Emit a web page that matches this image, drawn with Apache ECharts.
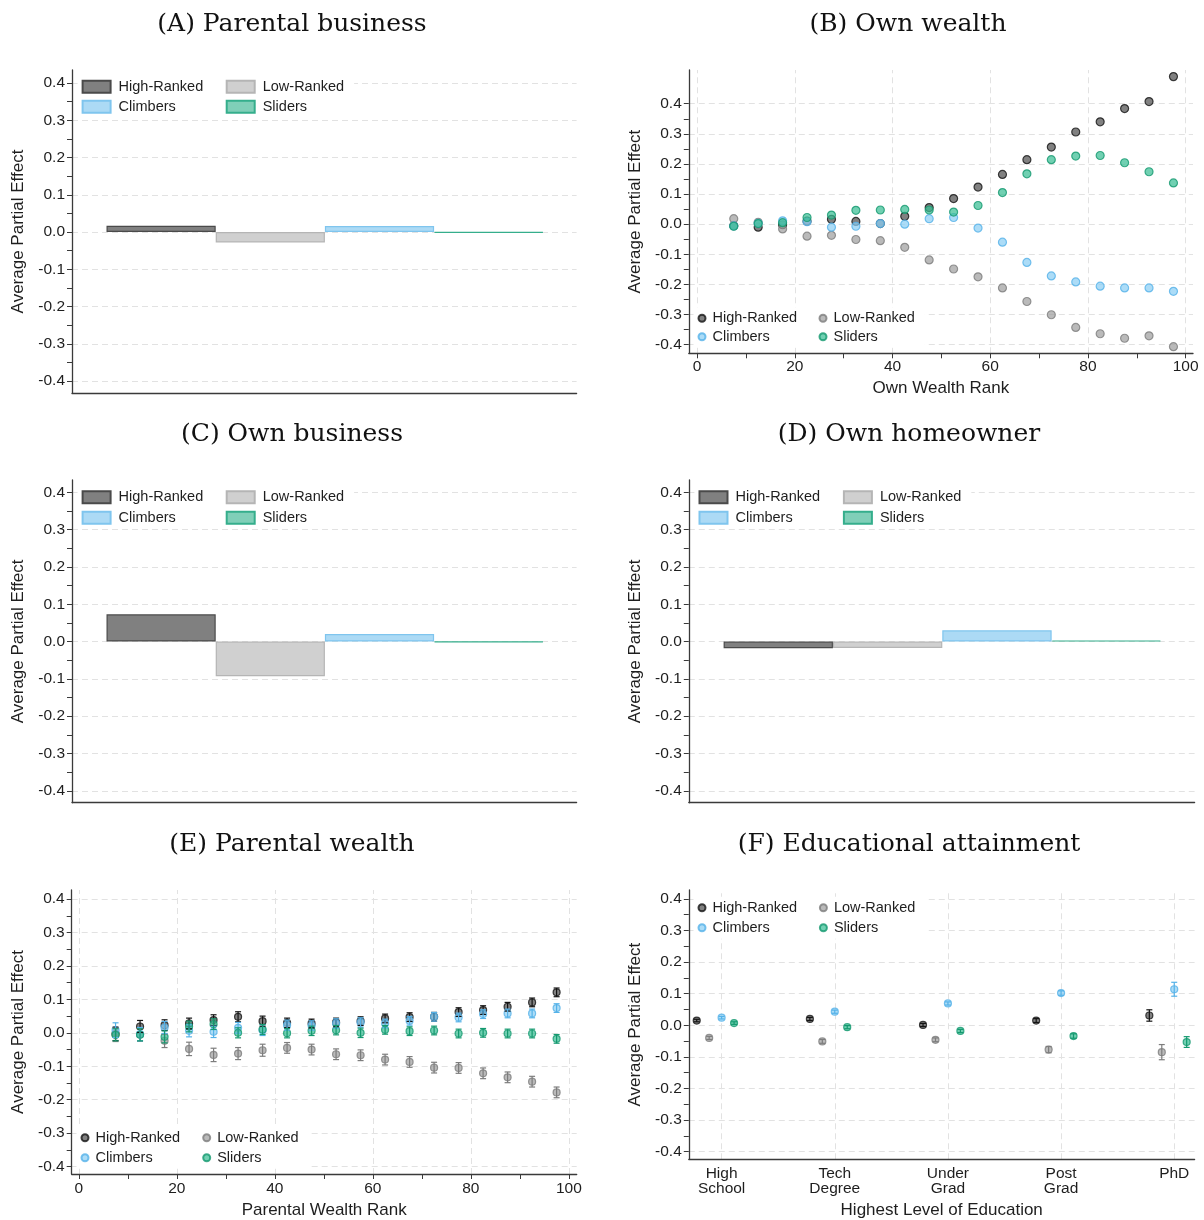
<!DOCTYPE html>
<html><head><meta charset="utf-8">
<script src="https://cdn.jsdelivr.net/npm/echarts@6/dist/echarts.min.js"></script>
<style>
html,body{margin:0;padding:0;background:#fff;}
#page{position:relative;width:1204px;height:1220px;overflow:hidden;}
.p{position:absolute;width:602px;height:410px;}
</style>
</head><body><div id="page">
<div class="p" id="pA" style="left:0;top:0"></div>
<div class="p" id="pB" style="left:602px;top:0"></div>
<div class="p" id="pC" style="left:0;top:410px"></div>
<div class="p" id="pD" style="left:602px;top:410px"></div>
<div class="p" id="pE" style="left:0;top:820px;height:420px"></div>
<div class="p" id="pF" style="left:602px;top:820px;height:420px"></div>
</div>
<script>
// ---------- data ----------
const groups = ['High-Ranked', 'Low-Ranked', 'Climbers', 'Sliders'];
const yLabelValues = [-0.4, -0.3, -0.2, -0.1, 0, 0.1, 0.2, 0.3, 0.4];
const yTickValues = [-0.4, -0.35, -0.3, -0.25, -0.2, -0.15, -0.1, -0.05, 0, 0.05, 0.1, 0.15, 0.2, 0.25, 0.3, 0.35, 0.4];
const rankLabelValues = [0, 20, 40, 60, 80, 100];
const rankTickValues = [0, 10, 20, 30, 40, 50, 60, 70, 80, 90, 100];
const rankBins = [7.5, 12.5, 17.5, 22.5, 27.5, 32.5, 37.5, 42.5, 47.5, 52.5, 57.5, 62.5, 67.5, 72.5, 77.5, 82.5, 87.5, 92.5, 97.5];
const eduLevels = ['High\nSchool', 'Tech\nDegree', 'Under\nGrad', 'Post\nGrad', 'PhD'];
const eduPositions = [1, 2, 3, 4, 5];

// (A) Parental business, (C) Own business, (D) Own homeowner: High, Low, Climbers, Sliders
const parentalBusiness = [0.017, -0.028, 0.016, -0.002];
const ownBusiness = [0.073, -0.093, 0.020, -0.002];
const ownHomeowner = [-0.018, -0.017, 0.030, 0.003];

// (B) Own wealth
const ownWealthHigh  = [-0.005, -0.010, -0.002, 0.010, 0.016, 0.009, 0.002, 0.026, 0.055, 0.085, 0.123, 0.165, 0.214, 0.256, 0.306, 0.340, 0.384, 0.407, 0.490];
const ownWealthLow   = [0.018, 0.006, -0.016, -0.040, -0.037, -0.051, -0.055, -0.077, -0.119, -0.149, -0.175, -0.212, -0.257, -0.301, -0.343, -0.364, -0.379, -0.371, -0.407];
const ownWealthClimb = [-0.006, 0.003, 0.011, 0.008, -0.010, -0.007, 0.002, 0.000, 0.018, 0.022, -0.013, -0.060, -0.127, -0.172, -0.192, -0.206, -0.212, -0.212, -0.223];
const ownWealthSlide = [-0.007, 0.002, 0.005, 0.022, 0.030, 0.046, 0.047, 0.049, 0.047, 0.040, 0.062, 0.105, 0.167, 0.214, 0.226, 0.228, 0.204, 0.174, 0.137];

// (E) Parental wealth (estimate and CI half-width)
const parWealthHigh  = [-0.003, 0.019, 0.023, 0.028, 0.038, 0.048, 0.035, 0.030, 0.028, 0.031, 0.035, 0.043, 0.047, 0.048, 0.062, 0.068, 0.078, 0.091, 0.121];
const parWealthLow   = [-0.006, -0.005, -0.024, -0.048, -0.066, -0.062, -0.052, -0.045, -0.050, -0.064, -0.067, -0.080, -0.087, -0.104, -0.105, -0.121, -0.133, -0.146, -0.178];
const parWealthClimb = [0.008, -0.004, 0.016, 0.006, 0.003, 0.015, 0.008, 0.023, 0.022, 0.028, 0.031, 0.028, 0.036, 0.048, 0.046, 0.056, 0.058, 0.058, 0.074];
const parWealthSlide = [-0.006, -0.006, -0.012, 0.019, 0.026, 0.000, 0.010, -0.001, 0.006, 0.008, 0.000, 0.009, 0.005, 0.007, -0.002, 0.000, -0.002, -0.002, -0.018];
const parWealthHighErr  = [0.020, 0.018, 0.016, 0.016, 0.016, 0.015, 0.015, 0.014, 0.013, 0.013, 0.013, 0.013, 0.013, 0.013, 0.013, 0.013, 0.013, 0.013, 0.013];
const parWealthLowErr   = [0.020, 0.020, 0.020, 0.020, 0.020, 0.018, 0.018, 0.016, 0.016, 0.016, 0.016, 0.016, 0.016, 0.016, 0.016, 0.016, 0.016, 0.016, 0.016];
const parWealthClimbErr = [0.022, 0.020, 0.018, 0.018, 0.017, 0.016, 0.016, 0.015, 0.014, 0.014, 0.014, 0.013, 0.013, 0.013, 0.013, 0.013, 0.013, 0.013, 0.013];
const parWealthSlideErr = [0.018, 0.018, 0.018, 0.016, 0.016, 0.015, 0.015, 0.014, 0.014, 0.014, 0.014, 0.013, 0.013, 0.013, 0.013, 0.013, 0.013, 0.013, 0.013];

// (F) Educational attainment
const eduHigh  = [0.015, 0.020, 0.001, 0.015, 0.031];
const eduLow   = [-0.040, -0.051, -0.046, -0.077, -0.085];
const eduClimb = [0.024, 0.043, 0.069, 0.102, 0.114];
const eduSlide = [0.007, -0.006, -0.018, -0.034, -0.053];
const eduHighErr  = [0.004, 0.005, 0.005, 0.006, 0.018];
const eduLowErr   = [0.005, 0.006, 0.006, 0.010, 0.024];
const eduClimbErr = [0.004, 0.005, 0.005, 0.007, 0.022];
const eduSlideErr = [0.004, 0.005, 0.005, 0.007, 0.017];

// ---------- styles ----------
const SANS = '"Liberation Sans", Arial, Helvetica, sans-serif';
const SERIF = '"DejaVu Serif", serif';
const AX = '#3a3a3a', TXT = '#1e1e1e', GRIDC = '#e2e2e2';
const barColors = {
  'High-Ranked': {fill: '#808080', stroke: '#4a4a4a'},
  'Low-Ranked':  {fill: '#d0d0d0', stroke: '#b5b5b5'},
  'Climbers':    {fill: '#acdaf5', stroke: '#7fc5ee'},
  'Sliders':     {fill: '#80cfb8', stroke: '#35ae8c'}
};
const pointColors = {
  'High-Ranked': {fill: 'rgba(70,70,70,0.85)',   stroke: '#141414'},
  'Low-Ranked':  {fill: 'rgba(160,160,160,0.9)', stroke: '#7d7d7d'},
  'Climbers':    {fill: 'rgba(140,206,244,0.9)', stroke: '#55b2e8'},
  'Sliders':     {fill: 'rgba(58,190,148,0.9)',  stroke: '#14996f'}
};

function titleCfg(text, cx) {
  return {text, left: cx, top: 10, padding: 0, textAlign: 'center',
    textStyle: {fontFamily: SERIF, fontSize: 25, fontWeight: 'normal', color: '#111', lineHeight: 28}};
}
function gridCfg(left, top, width, height) {
  return {left, top, width, height, containLabel: false, outerBoundsMode: 'none'};
}
function yAxisCfg(range) {
  return {
    type: 'value', gridIndex: 0, min: range[0], max: range[1],
    name: 'Average Partial Effect', nameLocation: 'middle', nameGap: 45,
    nameTextStyle: {fontFamily: SANS, fontSize: 17, color: TXT},
    axisLine: {show: true, onZero: false, lineStyle: {color: AX, width: 1.3}},
    axisTick: {show: true, customValues: yTickValues, length: 5, lineStyle: {color: AX, width: 1}},
    axisLabel: {show: true, customValues: yLabelValues, margin: 7,
      formatter: v => (Math.abs(v) < 1e-9 ? '0.0' : v.toFixed(1)),
      fontFamily: SANS, fontSize: 15.5, color: TXT},
    splitLine: {show: false}
  };
}
function gridLineSeries(hVals, vVals) {
  return {
    type: 'line', name: 'gridlines', xAxisIndex: 0, yAxisIndex: 0, data: [], silent: true, z: 0,
    markLine: {
      z: 0, silent: true, symbol: ['none', 'none'], label: {show: false}, animation: false,
      lineStyle: {type: [6, 4], color: GRIDC, width: 1},
      emphasis: {disabled: true},
      data: hVals.map(v => ({yAxis: v})).concat(vVals.map(v => ({xAxis: v})))
    }
  };
}
function legendCfg(kind, leg) {
  const isBar = kind === 'bar';
  const pt = 3, pl = 4;
  const base = {
    orient: 'vertical', top: leg.top - pt, itemGap: leg.gap, selectedMode: false,
    backgroundColor: '#ffffff', z: 6,
    icon: isBar ? 'rect' : 'circle',
    itemWidth: isBar ? 28 : 7, itemHeight: isBar ? 12 : 7,
    textStyle: {fontFamily: SANS, fontSize: 14.5, color: TXT, lineHeight: 16,
      padding: [0, 0, 0, isBar ? 3 : 2]}
  };
  return [
    Object.assign({}, base, {left: leg.x1 - pl, padding: [pt, 26, pt, pl], data: ['High-Ranked', 'Climbers']}),
    Object.assign({}, base, {left: leg.x2 - pl, padding: [pt, 10, pt, pl], data: ['Low-Ranked', 'Sliders']})
  ];
}

function barPanel(id, title, cx, vals, g) {
  const chart = echarts.init(document.getElementById(id));
  const series = [gridLineSeries(yLabelValues, [])];
  groups.forEach((name, i) => {
    series.push({
      type: 'bar', name, xAxisIndex: 1, yAxisIndex: 1, stack: 'all', barWidth: '100%', z: 3,
      data: groups.map((_, j) => (j === i ? vals[i] : '-')),
      itemStyle: {color: barColors[name].fill, borderColor: barColors[name].stroke, borderWidth: 1.2},
      emphasis: {disabled: true}
    });
  });
  chart.setOption({
    animation: false,
    title: titleCfg(title, cx),
    grid: [
      gridCfg(g.left, g.top, g.width, g.height),
      gridCfg(g.barLeft, g.top, g.barWidth, g.height)
    ],
    xAxis: [
      {type: 'value', gridIndex: 0, min: 0, max: 1,
        axisLine: {show: true, onZero: false, lineStyle: {color: AX, width: 1.3}},
        axisTick: {show: false}, axisLabel: {show: false}, splitLine: {show: false}},
      {type: 'category', gridIndex: 1, data: groups, show: false}
    ],
    yAxis: [
      yAxisCfg(g.yRange),
      {type: 'value', gridIndex: 1, min: g.yRange[0], max: g.yRange[1], show: false, splitLine: {show: false}}
    ],
    legend: legendCfg('bar', g.leg),
    series
  });
}

function pointPanel(id, title, cx, xs, vals, errs, offsets, g) {
  const chart = echarts.init(document.getElementById(id));
  const series = [gridLineSeries(yLabelValues, g.vGrid)];
  groups.forEach((name, i) => {
    const pts = xs.map((x, k) => [x + offsets[i], vals[i][k]]);
    series.push({
      type: 'scatter', name, xAxisIndex: 0, yAxisIndex: 0, z: 3,
      symbol: 'circle', symbolSize: g.symbolSize, data: pts,
      itemStyle: {color: pointColors[name].fill, borderColor: pointColors[name].stroke, borderWidth: 1.2},
      emphasis: {disabled: true}
    });
  });
  if (errs) {
    groups.forEach((name, i) => {
      const stroke = pointColors[name].stroke;
      series.push({
        type: 'custom', name: name + ' CI', xAxisIndex: 0, yAxisIndex: 0, z: 4, silent: true,
        data: xs.map((x, k) => [x + offsets[i], vals[i][k] - errs[i][k], vals[i][k] + errs[i][k]]),
        encode: {x: 0, y: [1, 2]},
        renderItem: (params, api) => {
          const p1 = api.coord([api.value(0), api.value(1)]);
          const p2 = api.coord([api.value(0), api.value(2)]);
          const w = 3;
          const st = {stroke, lineWidth: 1.2};
          return {type: 'group', children: [
            {type: 'line', shape: {x1: p1[0], y1: p1[1], x2: p2[0], y2: p2[1]}, style: st},
            {type: 'line', shape: {x1: p1[0] - w, y1: p1[1], x2: p1[0] + w, y2: p1[1]}, style: st},
            {type: 'line', shape: {x1: p2[0] - w, y1: p2[1], x2: p2[0] + w, y2: p2[1]}, style: st}
          ]};
        }
      });
    });
  }
  chart.setOption({
    animation: false,
    title: titleCfg(title, cx),
    grid: [gridCfg(g.left, g.top, g.width, g.height)],
    xAxis: [{
      type: 'value', gridIndex: 0, min: g.xRange[0], max: g.xRange[1],
      name: g.xName, nameLocation: 'middle', nameGap: g.xNameGap,
      nameTextStyle: {fontFamily: SANS, fontSize: 17, color: TXT},
      axisLine: {show: true, onZero: false, lineStyle: {color: AX, width: 1.3}},
      axisTick: g.xTicks ? {show: true, customValues: g.xTicks, length: 5, lineStyle: {color: AX, width: 1}} : {show: false},
      axisLabel: {show: true, customValues: g.xLabels, formatter: g.xFormatter, margin: g.xLabelMargin,
        fontFamily: SANS, fontSize: 15.5, color: TXT, lineHeight: 15},
      splitLine: {show: false}
    }],
    yAxis: [yAxisCfg(g.yRange)],
    legend: legendCfg('point', g.leg),
    series
  });
}

// ---------- panels ----------
barPanel('pA', '(A) Parental business', 292, parentalBusiness, {
  left: 72, top: 70, width: 504.6, height: 323, barLeft: 106.5, barWidth: 436.8,
  yRange: [-0.432, 0.435], leg: {x1: 81.6, x2: 225.7, top: 78.7, gap: 4}
});
barPanel('pC', '(C) Own business', 292, ownBusiness, {
  left: 72, top: 70, width: 504.6, height: 322.7, barLeft: 106.5, barWidth: 436.8,
  yRange: [-0.432, 0.433], leg: {x1: 81.6, x2: 225.7, top: 79.3, gap: 4.4}
});
barPanel('pD', '(D) Own homeowner', 307, ownHomeowner, {
  left: 86.8, top: 70, width: 505.8, height: 322.7, barLeft: 121.6, barWidth: 437.4,
  yRange: [-0.432, 0.433], leg: {x1: 96.5, x2: 240.9, top: 79.3, gap: 4.4}
});
pointPanel('pB', '(B) Own wealth', 306, rankBins,
  [ownWealthHigh, ownWealthLow, ownWealthClimb, ownWealthSlide], null, [0, 0, 0, 0], {
  left: 86.8, top: 70, width: 504.2, height: 283.3, yRange: [-0.429, 0.512], xRange: [-1.7, 101.5],
  xName: 'Own Wealth Rank', xNameGap: 27, xTicks: rankTickValues, xLabels: rankLabelValues,
  xFormatter: v => String(Math.round(v)), xLabelMargin: 6, vGrid: rankLabelValues, symbolSize: 8,
  leg: {x1: 95.5, x2: 216.5, top: 310.3, gap: 2.4}
});
pointPanel('pE', '(E) Parental wealth', 292, rankBins,
  [parWealthHigh, parWealthLow, parWealthClimb, parWealthSlide],
  [parWealthHighErr, parWealthLowErr, parWealthClimbErr, parWealthSlideErr], [0, 0, 0, 0], {
  left: 71.7, top: 70, width: 505, height: 284, yRange: [-0.422, 0.427], xRange: [-1.45, 101.6],
  xName: 'Parental Wealth Rank', xNameGap: 28, xTicks: rankTickValues, xLabels: rankLabelValues,
  xFormatter: v => String(Math.round(v)), xLabelMargin: 7, vGrid: rankLabelValues, symbolSize: 7,
  leg: {x1: 80.5, x2: 202.2, top: 309.7, gap: 4}
});
pointPanel('pF', '(F) Educational attainment', 307, eduPositions,
  [eduHigh, eduLow, eduClimb, eduSlide],
  [eduHighErr, eduLowErr, eduClimbErr, eduSlideErr], [-0.22, -0.11, 0, 0.11], {
  left: 86.8, top: 70, width: 505.8, height: 269.3, yRange: [-0.424, 0.428], xRange: [0.71, 5.18],
  xName: 'Highest Level of Education', xNameGap: 41, xTicks: null, xLabels: eduPositions,
  xFormatter: v => eduLevels[Math.round(v) - 1], xLabelMargin: 7, vGrid: eduPositions, symbolSize: 7,
  leg: {x1: 95.5, x2: 216.9, top: 79.7, gap: 4}
});
</script></body></html>
